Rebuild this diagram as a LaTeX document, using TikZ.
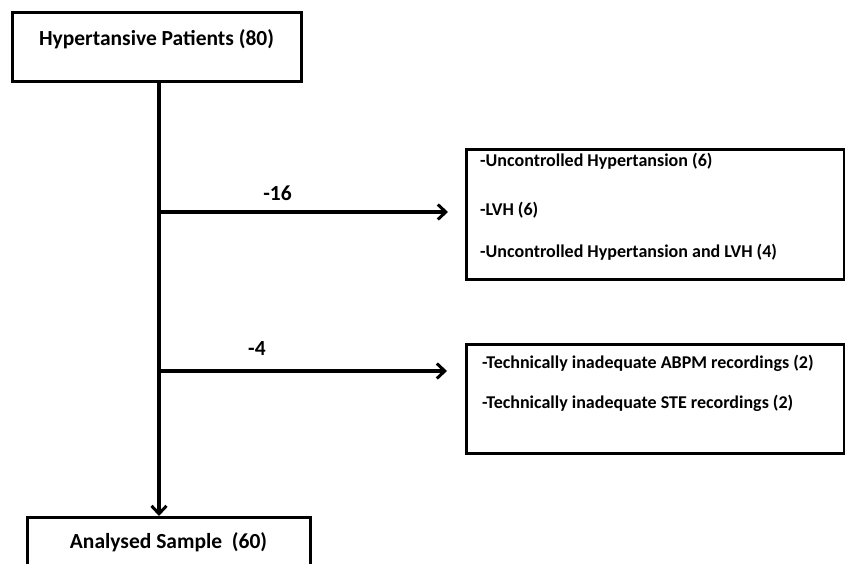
\documentclass[tikz,border=0pt]{standalone}
\usepackage{fontspec}
\setmainfont{Carlito}
\usepackage{tikz}
\usetikzlibrary{arrows.meta}
\usetikzlibrary{calc}

\begin{document}
\begin{tikzpicture}[x=1pt,y=-1pt,
        box/.style={draw,line width=3pt,inner sep=0pt},
        item/.style={anchor=west,inner sep=0pt,font=\fontsize{18}{21}\selectfont\bfseries},
        lbl/.style={inner sep=0pt,font=\fontsize{21.5}{25}\selectfont\bfseries},
        flow/.style={line width=3.2pt,-{Straight Barb[length=8pt,width=15pt,line width=3pt]}}]
        \clip (0,0) rectangle (845,564);
        \node[box,lbl,minimum width=289,text height=33,text depth=36,anchor=north] (top) at (156.5,11) {Hypertansive Patients (80)};
        \node[box,lbl,minimum width=283,text height=31,text depth=40,anchor=north] (sample) at (168.5,516) {Analysed Sample\ \ (60)};
        % exclusions
        \node[box,minimum width=378,minimum height=130,anchor=north west] (excl1) at (465,148) {};
        \node[item] (uh) at ($(excl1.north west)+(15,13)$) {-Uncontrolled Hypertansion (6)};
        \node[item] (lvh) at ($(excl1.north west)+(15,62)$) {-LVH (6)};
        \node[item] (both) at ($(excl1.north west)+(15,104)$) {-Uncontrolled Hypertansion and LVH (4)};
        \node[box,minimum width=378,minimum height=109,anchor=north west] (excl2) at (465,343) {};
        \node[item] (abpm) at ($(excl2.north west)+(17,20)$) {-Technically inadequate ABPM recordings (2)};
        \node[item] (ste) at ($(excl2.north west)+(17,60)$) {-Technically inadequate STE recordings (2)};
        \coordinate (trunk) at (159,0);
        \coordinate (b1) at (159,212);
        \coordinate (b2) at (159,371);
        \coordinate (e1) at ($(excl1.west |- b1)+(-17,0)$);
        \coordinate (e2) at ($(excl2.west |- b2)+(-18,0)$);
        \draw[flow] (top.south -| trunk)--(sample.north -| trunk);
        \draw[flow] (b1)--node[lbl,pos=0.41,above=10pt]{-16}(e1);
        \draw[flow] (b2)--node[lbl,pos=0.34,above=14pt]{-4}(e2);
    \end{tikzpicture}
\end{document}
